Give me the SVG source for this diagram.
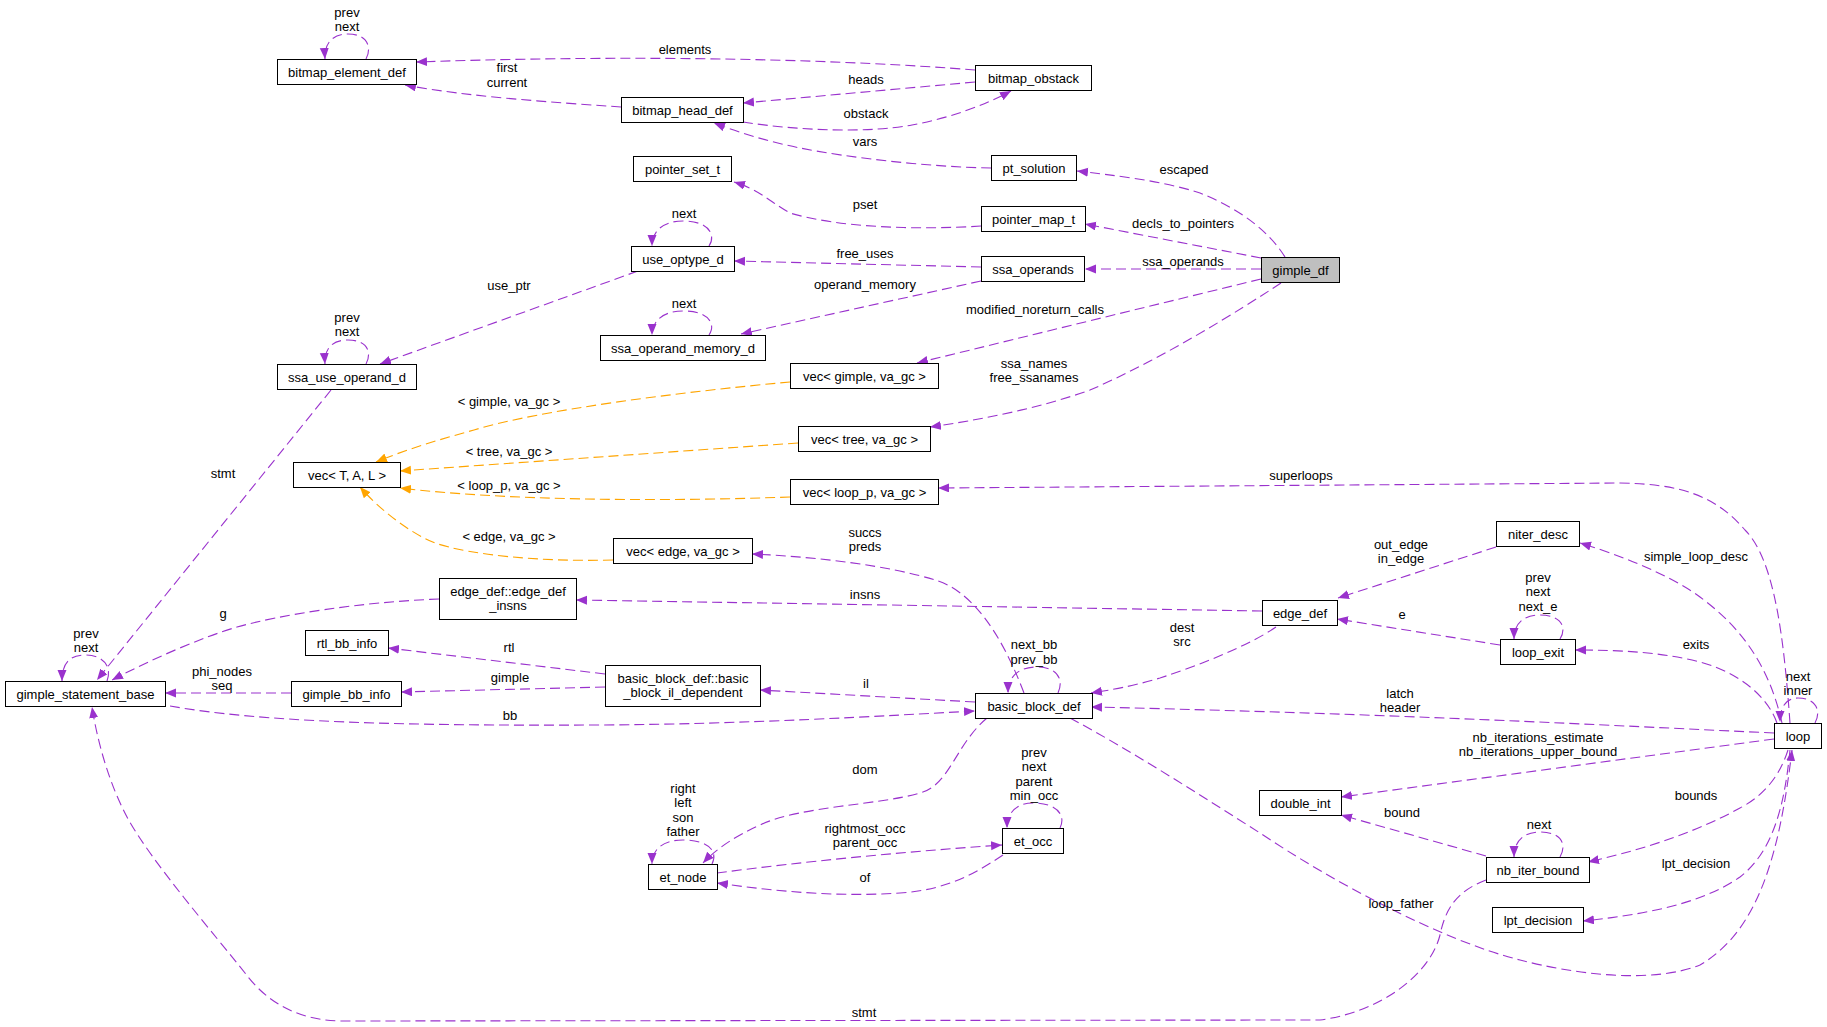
<svg xmlns="http://www.w3.org/2000/svg" width="1827" height="1027" viewBox="0 0 1827 1027">
<style>
text{font-family:"Liberation Sans",Arial,Helvetica,sans-serif;font-size:13px;fill:#000;text-anchor:middle}
.n rect{fill:#fff;stroke:#000;stroke-width:1}
.n.main rect{fill:#bfbfbf}
.e{fill:none;stroke:#9a32cd;stroke-width:1.1;stroke-dasharray:10,5;marker-end:url(#ap)}
.o{fill:none;stroke:#ffa500;stroke-width:1.1;stroke-dasharray:10,5;marker-end:url(#ao)}
</style>
<defs>
<marker id="ap" markerUnits="userSpaceOnUse" markerWidth="12" markerHeight="10" refX="11" refY="4.5" orient="auto" viewBox="0 0 12 10"><path d="M0,0 L11,4.5 L0,9 z" fill="#9a32cd"/></marker>
<marker id="ao" markerUnits="userSpaceOnUse" markerWidth="12" markerHeight="10" refX="11" refY="4.5" orient="auto" viewBox="0 0 12 10"><path d="M0,0 L11,4.5 L0,9 z" fill="#ffa500"/></marker>
</defs>
<rect width="1827" height="1027" fill="#fff"/>
<g id="edges">
<path class="e" d="M366,59 C372,48 368,34 348,34 C332,34 324,44 325,59"/>
<text x="347" y="16.5">prev</text><text x="347" y="31">next</text>
<path class="e" d="M975,70 C850,60 650,54 416,62"/>
<text x="685" y="53.5">elements</text>
<path class="e" d="M621,107 C550,102 470,97 405,85"/>
<text x="507" y="72">first</text><text x="507" y="86.5">current</text>
<path class="e" d="M975,82 L743,103"/>
<text x="866" y="83.5">heads</text>
<path class="e" d="M743,122 C800,131 870,133 912,125 C950,118 985,105 1011,91"/>
<text x="866" y="117.5">obstack</text>
<path class="e" d="M991,168 C930,167 850,158 800,148 C770,142 740,133 714,123"/>
<text x="865" y="145.5">vars</text>
<path class="e" d="M1285,257 C1265,225 1230,205 1200,193 C1160,180 1110,175 1077,171"/>
<text x="1184" y="173.5">escaped</text>
<path class="e" d="M981,226 C920,230 840,228 790,213 C770,202 760,190 734,182"/>
<text x="865" y="208.5">pset</text>
<path class="e" d="M1261,258 L1085,224"/>
<text x="1183" y="227.5">decls_to_pointers</text>
<path class="e" d="M1261,269 L1085,269"/>
<text x="1183" y="265.5">ssa_operands</text>
<path class="e" d="M709,246 C716,236 710,221 683,221 C662,221 652,232 652,246"/>
<text x="684" y="217.5">next</text>
<path class="e" d="M981,267 L734,261"/>
<text x="865" y="257.5">free_uses</text>
<path class="e" d="M981,281 L741,334"/>
<text x="865" y="288.5">operand_memory</text>
<path class="e" d="M709,335 C716,325 710,311 683,311 C662,311 652,322 652,335"/>
<text x="684" y="307.5">next</text>
<path class="e" d="M638,271 L380,364"/>
<text x="509" y="289.5">use_ptr</text>
<path class="e" d="M366,364 C372,353 368,340 348,340 C332,340 324,349 325,364"/>
<text x="347" y="321.5">prev</text><text x="347" y="336">next</text>
<path class="e" d="M1261,279 L917,363"/>
<text x="1035" y="313.5">modified_noreturn_calls</text>
<path class="e" d="M1281,283 C1240,310 1160,360 1090,390 C1040,408 980,420 930,427"/>
<text x="1034" y="367.5">ssa_names</text><text x="1034" y="382">free_ssanames</text>
<path class="o" d="M790,382 C680,392 540,410 474,430 C430,442 400,452 376,462"/>
<text x="509" y="405.5">&lt; gimple, va_gc &gt;</text>
<path class="o" d="M798,443 L400,471"/>
<text x="509" y="455.5">&lt; tree, va_gc &gt;</text>
<path class="o" d="M790,497 C650,502 500,500 400,488"/>
<text x="509" y="489.5">&lt; loop_p, va_gc &gt;</text>
<path class="o" d="M613,560 C540,562 470,555 435,543 C410,533 380,510 360,487"/>
<text x="509" y="540.5">&lt; edge, va_gc &gt;</text>
<path class="e" d="M331,390 L97,680"/>
<text x="223" y="477.5">stmt</text>
<path class="e" d="M1790,723 C1784,640 1775,560 1745,530 C1715,495 1680,484 1620,483 L938,488"/>
<text x="1301" y="479.5">superloops</text>
<path class="e" d="M1024,693 C1000,630 970,590 935,580 C890,566 820,557 752,554"/>
<text x="865" y="536.5">succs</text><text x="865" y="551">preds</text>
<path class="e" d="M1496,547 L1338,598"/>
<text x="1401" y="548.5">out_edge</text><text x="1401" y="563">in_edge</text>
<path class="e" d="M1262,611 L576,600"/>
<text x="865" y="598.5">insns</text>
<path class="e" d="M439,599 C360,602 280,615 237,627 C200,638 150,660 112,680"/>
<text x="223" y="618">g</text>
<path class="e" d="M1782,723 C1770,670 1745,630 1700,597 C1670,575 1620,555 1580,543"/>
<text x="1696" y="560.5">simple_loop_desc</text>
<path class="e" d="M1560,639 C1567,628 1562,615 1540,615 C1522,615 1514,625 1514,639"/>
<text x="1538" y="581.5">prev</text><text x="1538" y="596">next</text><text x="1538" y="610.5">next_e</text>
<path class="e" d="M1500,645 L1337,619"/>
<text x="1402" y="619">e</text>
<path class="e" d="M1777,723 C1765,690 1730,670 1700,662 C1660,652 1620,650 1575,650"/>
<text x="1696" y="648.5">exits</text>
<path class="e" d="M1815,723 C1822,710 1815,698 1798,698 C1786,698 1780,707 1780,722"/>
<text x="1798" y="680.5">next</text><text x="1798" y="695">inner</text>
<path class="e" d="M1276,627 C1250,645 1200,665 1160,678 C1130,687 1110,690 1091,693"/>
<text x="1182" y="631.5">dest</text><text x="1182" y="646">src</text>
<path class="e" d="M1058,693 C1064,680 1058,667 1037,667 C1018,667 1008,677 1008,693"/>
<text x="1034" y="649">next_bb</text><text x="1034" y="663.5">prev_bb</text>
<path class="e" d="M605,674 L388,648"/>
<text x="509" y="651.5">rtl</text>
<path class="e" d="M605,687 L401,692"/>
<text x="510" y="682">gimple</text>
<path class="e" d="M291,693 L165,693"/>
<text x="222" y="675.5">phi_nodes</text><text x="222" y="690">seq</text>
<path class="e" d="M107,681 C112,668 105,655 85,655 C68,655 62,665 62,681"/>
<text x="86" y="637.5">prev</text><text x="86" y="652">next</text>
<path class="e" d="M975,702 L760,690"/>
<text x="866" y="687.5">il</text>
<path class="e" d="M170,706 C260,722 400,726 600,725 C750,724 880,716 975,711"/>
<text x="510" y="719.5">bb</text>
<path class="e" d="M987,718 C955,745 950,785 920,793 C880,805 800,806 760,825 C735,836 715,850 703,863"/>
<text x="865" y="773.5">dom</text>
<path class="e" d="M712,864 C718,852 710,840 683,840 C662,840 652,850 652,864"/>
<text x="683" y="792.5">right</text><text x="683" y="807">left</text><text x="683" y="821.5">son</text><text x="683" y="836">father</text>
<path class="e" d="M717,873 C800,862 900,852 1002,845"/>
<text x="865" y="832.5">rightmost_occ</text><text x="865" y="847">parent_occ</text>
<path class="e" d="M1003,855 C980,870 950,890 900,893 C840,897 780,892 717,883"/>
<text x="865" y="881.5">of</text>
<path class="e" d="M1060,828 C1066,816 1058,803 1033,803 C1015,803 1007,814 1007,828"/>
<text x="1034" y="756.5">prev</text><text x="1034" y="771">next</text><text x="1034" y="785.5">parent</text><text x="1034" y="800">min_occ</text>
<path class="e" d="M1774,733 C1600,725 1400,714 1091,707"/>
<text x="1400" y="697.5">latch</text><text x="1400" y="712">header</text>
<path class="e" d="M1774,739 L1341,797"/>
<text x="1538" y="741.5">nb_iterations_estimate</text><text x="1538" y="756">nb_iterations_upper_bound</text>
<path class="e" d="M1486,856 L1341,815"/>
<text x="1402" y="816.5">bound</text>
<path class="e" d="M1560,857 C1567,845 1562,832 1540,832 C1522,832 1514,843 1514,857"/>
<text x="1539" y="828.5">next</text>
<path class="e" d="M1788,750 C1780,775 1765,795 1740,808 C1700,830 1650,848 1588,862"/>
<text x="1696" y="799.5">bounds</text>
<path class="e" d="M1790,750 C1785,800 1775,850 1740,877 C1700,905 1640,915 1583,921"/>
<text x="1696" y="867.5">lpt_decision</text>
<path class="e" d="M1070,718 C1130,750 1200,795 1260,833 C1330,880 1440,940 1520,960 C1570,973 1650,985 1700,965 C1760,930 1780,850 1792,750"/>
<text x="1401" y="907.5">loop_father</text>
<path class="e" d="M1486,880 C1460,890 1446,905 1440,935 C1430,975 1380,1012 1320,1020 L340,1021 C295,1020 265,1000 245,973 C215,935 150,860 127,817 C110,785 98,745 92,707"/>
<text x="864" y="1016.5">stmt</text>
</g>
<g id="node-bitmap_element_def" class="n"><rect x="277.5" y="59.5" width="139" height="25"/><text x="347" y="76.5">bitmap_element_def</text></g>
<g id="node-bitmap_obstack" class="n"><rect x="975.5" y="65.5" width="116" height="25"/><text x="1033.5" y="82.5">bitmap_obstack</text></g>
<g id="node-bitmap_head_def" class="n"><rect x="621.5" y="97.5" width="122" height="25"/><text x="682.5" y="114.5">bitmap_head_def</text></g>
<g id="node-pt_solution" class="n"><rect x="991.5" y="155.5" width="85" height="25"/><text x="1034" y="172.5">pt_solution</text></g>
<g id="node-pointer_set_t" class="n"><rect x="633.5" y="156.5" width="98" height="25"/><text x="682.5" y="173.5">pointer_set_t</text></g>
<g id="node-pointer_map_t" class="n"><rect x="981.5" y="206.5" width="104" height="25"/><text x="1033.5" y="223.5">pointer_map_t</text></g>
<g id="node-use_optype_d" class="n"><rect x="631.5" y="246.5" width="103" height="25"/><text x="683" y="263.5">use_optype_d</text></g>
<g id="node-ssa_operands" class="n"><rect x="981.5" y="256.5" width="103" height="25"/><text x="1033" y="273.5">ssa_operands</text></g>
<g id="node-gimple_df" class="n main"><rect x="1261.5" y="257.5" width="78" height="25"/><text x="1300.5" y="274.5">gimple_df</text></g>
<g id="node-ssa_operand_memory_d" class="n"><rect x="600.5" y="335.5" width="165" height="25"/><text x="683" y="352.5">ssa_operand_memory_d</text></g>
<g id="node-vec_gimple" class="n"><rect x="790.5" y="363.5" width="148" height="25"/><text x="864.5" y="380.5">vec&lt; gimple, va_gc &gt;</text></g>
<g id="node-ssa_use_operand_d" class="n"><rect x="277.5" y="364.5" width="139" height="25"/><text x="347" y="381.5">ssa_use_operand_d</text></g>
<g id="node-vec_tree" class="n"><rect x="798.5" y="426.5" width="132" height="25"/><text x="864.5" y="443.5">vec&lt; tree, va_gc &gt;</text></g>
<g id="node-vec_T_A_L" class="n"><rect x="293.5" y="462.5" width="107" height="25"/><text x="347" y="479.5">vec&lt; T, A, L &gt;</text></g>
<g id="node-vec_loop_p" class="n"><rect x="790.5" y="479.5" width="148" height="25"/><text x="864.5" y="496.5">vec&lt; loop_p, va_gc &gt;</text></g>
<g id="node-vec_edge" class="n"><rect x="613.5" y="538.5" width="139" height="25"/><text x="683" y="555.5">vec&lt; edge, va_gc &gt;</text></g>
<g id="node-edge_def_insns" class="n"><rect x="439.5" y="578.5" width="137" height="41"/><text x="508" y="595.5">edge_def::edge_def</text><text x="508" y="609.5">_insns</text></g>
<g id="node-niter_desc" class="n"><rect x="1496.5" y="521.5" width="83" height="25"/><text x="1538" y="538.5">niter_desc</text></g>
<g id="node-edge_def" class="n"><rect x="1262.5" y="600.5" width="75" height="25"/><text x="1300" y="617.5">edge_def</text></g>
<g id="node-rtl_bb_info" class="n"><rect x="305.5" y="630.5" width="83" height="25"/><text x="347" y="647.5">rtl_bb_info</text></g>
<g id="node-loop_exit" class="n"><rect x="1500.5" y="639.5" width="75" height="25"/><text x="1538" y="656.5">loop_exit</text></g>
<g id="node-basic_block_il_dependent" class="n"><rect x="605.5" y="665.5" width="155" height="41"/><text x="683" y="682.5">basic_block_def::basic</text><text x="683" y="696.5">_block_il_dependent</text></g>
<g id="node-gimple_statement_base" class="n"><rect x="5.5" y="681.5" width="160" height="25"/><text x="85.5" y="698.5">gimple_statement_base</text></g>
<g id="node-gimple_bb_info" class="n"><rect x="291.5" y="681.5" width="110" height="25"/><text x="346.5" y="698.5">gimple_bb_info</text></g>
<g id="node-basic_block_def" class="n"><rect x="975.5" y="693.5" width="117" height="25"/><text x="1034" y="710.5">basic_block_def</text></g>
<g id="node-loop" class="n"><rect x="1774.5" y="723.5" width="47" height="25"/><text x="1798" y="740.5">loop</text></g>
<g id="node-double_int" class="n"><rect x="1259.5" y="790.5" width="82" height="25"/><text x="1300.5" y="807.5">double_int</text></g>
<g id="node-et_occ" class="n"><rect x="1002.5" y="828.5" width="61" height="25"/><text x="1033" y="845.5">et_occ</text></g>
<g id="node-nb_iter_bound" class="n"><rect x="1486.5" y="857.5" width="103" height="25"/><text x="1538" y="874.5">nb_iter_bound</text></g>
<g id="node-et_node" class="n"><rect x="648.5" y="864.5" width="69" height="25"/><text x="683" y="881.5">et_node</text></g>
<g id="node-lpt_decision" class="n"><rect x="1492.5" y="907.5" width="91" height="25"/><text x="1538" y="924.5">lpt_decision</text></g>
</svg>
